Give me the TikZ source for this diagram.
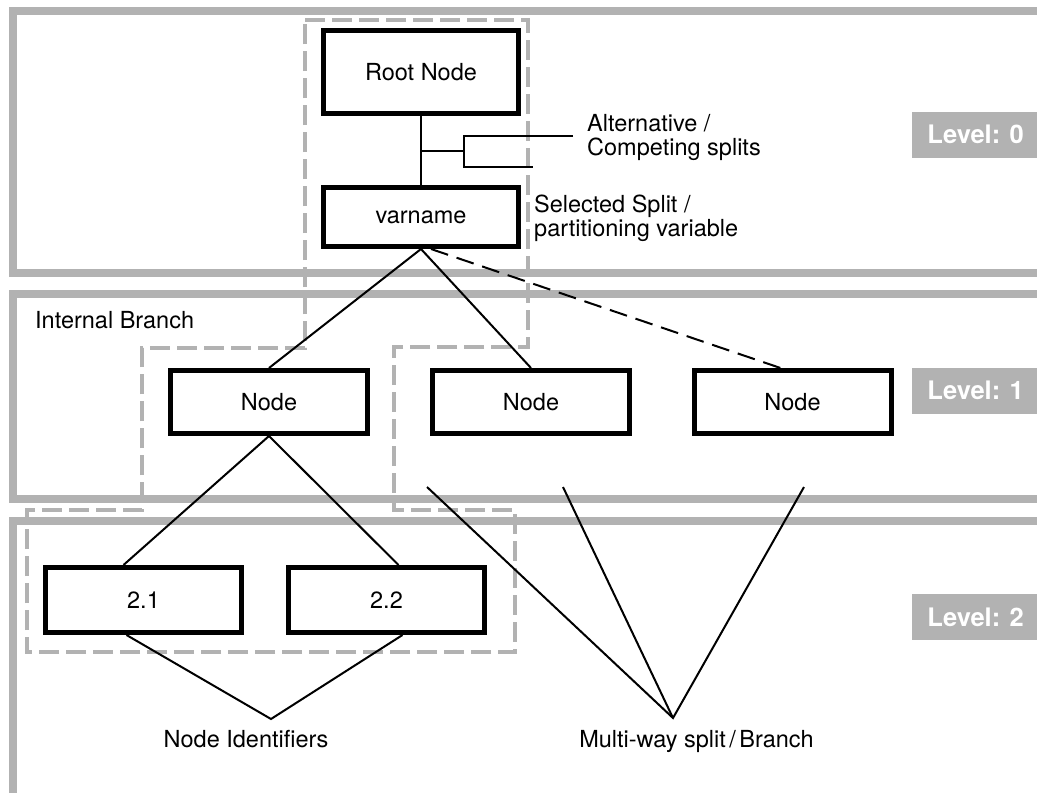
\documentclass[tikz,border=0pt]{standalone}
\usepackage{fontspec}
\setmainfont{TeX Gyre Heros}
\usetikzlibrary{positioning}

\definecolor{bandgray}{RGB}{178,178,178}

\tikzset{
  treenode/.style={draw, fill=white, line width=5pt, inner sep=0pt, minimum width=197pt, minimum height=63pt},
  band/.style={draw=bandgray, line width=8pt},
  cluster/.style={draw=bandgray, line width=4pt, dash pattern=on 20pt off 7pt},
  link/.style={line width=2pt},
  levelbox/.style={fill=bandgray, text=white, inner sep=0pt, anchor=west, minimum width=127pt, minimum height=46pt,
    font=\bfseries\fontsize{25.5}{28}\selectfont},
  note/.style={inner sep=0pt, align=left}
}

\begin{document}
\begin{tikzpicture}[x=1pt, y=-1pt, font=\fontsize{23.5}{24}\selectfont]
      \def\bandright{1050}

      \useasboundingbox (0,0) rectangle (1037,793);
      \clip (0,0) rectangle (1037,793);
      \fill[white] (0,0) rectangle (1037,793);

      \draw[band] (13,11) rectangle (\bandright,273);
      \draw[band] (13,294) rectangle (\bandright,499);
      \draw[band] (13,521) rectangle (\bandright,830);

      \draw[cluster] (305,20) -- (528,20) -- (528,347) -- (394,347) -- (394,510) -- (515,510) -- (515,652)
        -- (27,652) -- (27,510) -- (142,510) -- (142,348) -- (305,348) -- cycle;

      \node[treenode, minimum width=195pt, minimum height=83pt] (root) at (421,72) {Root Node};
      \node[treenode, minimum width=195pt, minimum height=59pt] (split) at (421,217) {varname};

      \node[treenode] (n1) at (269,402) {Node};
      \node[treenode] (n2) at (531,402) {Node};
      \node[treenode] (n3) at (792.5,402) {Node};

      \node[treenode, minimum width=196pt, minimum height=65pt] (n21) at (143.5,600) {2.1};
      \node[treenode, minimum width=196pt, minimum height=65pt] (n22) at (386.5,600) {2.2};

      \coordinate (alt) at (421,151);
      \coordinate (fork) at (464,151);
      \coordinate (alt1) at (573,136);
      \coordinate (alt2) at (533,167);
      \draw[link] (root) -- (split);
      \draw[link] (alt) -- (fork);
      \draw[link] (alt1) -| (fork) |- (alt2);

      \draw[link] (split.south) -- (n1.north);
      \draw[link] (split.south) -- (n2.north);
      \draw[link, dash pattern=on 18pt off 9pt] ([xshift=10pt]split.south) -- ([xshift=-12pt]n3.north);

      \draw[link] (n1.south) -- ([xshift=-20pt]n21.north);
      \draw[link] (n1.south) -- ([xshift=12pt]n22.north);

      \coordinate (idtip) at (271,719);
      \draw[link] ([xshift=-17pt]n21.south) -- (idtip) -- ([xshift=16pt]n22.south);

      \coordinate (mwtip) at (673,718);
      \coordinate (mw1) at (427,487);
      \coordinate (mw2) at (563,487);
      \coordinate (mw3) at (804,487);
      \draw[link] (mw1) -- (mwtip) -- (mw3);
      \draw[link] (mw2) -- (mwtip);

      \node[note, anchor=north west] (altlabel) at (587,114) {Alternative /\\Competing splits};
      \node[note, anchor=north west] (splitlabel) at (534,195) {Selected Split /\\partitioning variable};
      \node[note, anchor=base west] (branchlabel) at (35,328) {Internal Branch};
      \node[note, anchor=base] (idlabel) at (246,747) {Node Identifiers};
      \node[note, anchor=base] (mwlabel) at (696.5,747) {Multi-way split\hspace{0.15em}/\hspace{0.15em}Branch};

      \node[levelbox] (lvl0) at (912,134.5) {Level: 0};
      \node[levelbox] (lvl1) at (912,390.5) {Level: 1};
      \node[levelbox] (lvl2) at (912,617) {Level: 2};

    \end{tikzpicture}
\end{document}
